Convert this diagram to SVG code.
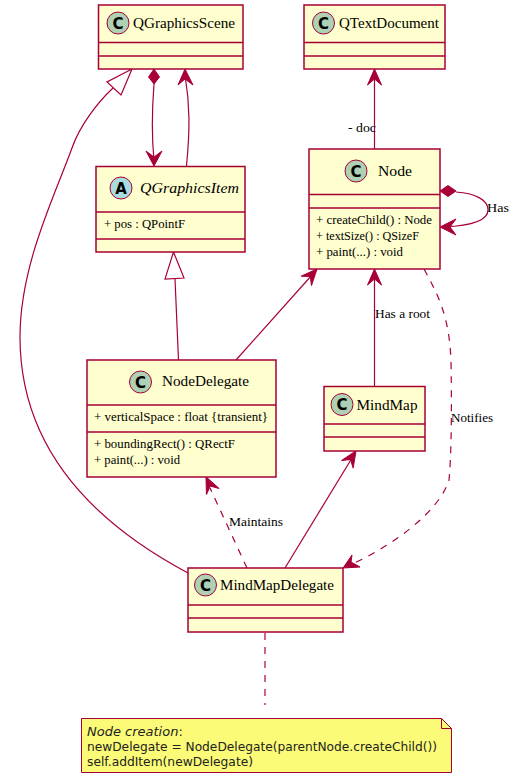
<svg xmlns="http://www.w3.org/2000/svg" width="515" height="784" viewBox="0 0 515 784">
<style>
.box{fill:#FEFECE;stroke:#A80036;stroke-width:1.5}
.sep{stroke:#A80036;stroke-width:1.5;fill:none}
.c{fill:#ADD1B2;stroke:#A80036;stroke-width:1}
.a{fill:#A9DCDF;stroke:#A80036;stroke-width:1}
.ct{font:bold 15px "DejaVu Sans",sans-serif;fill:#000;text-anchor:middle}
.t{font-family:"Liberation Serif","Times New Roman",serif;font-size:15.500px;fill:#000}
.m{font-family:"Liberation Serif","Times New Roman",serif;font-size:12.500px;fill:#000}
.n{font-family:"DejaVu Sans",sans-serif;font-size:13px;fill:#222}
.l{fill:none;stroke:#A80036;stroke-width:1.2}
.d{stroke-dasharray:7 7}
.h{fill:#A80036;stroke:#A80036;stroke-width:1}
.o{fill:none;stroke:#A80036;stroke-width:1.2}
</style>
<defs>
<path id="open" d="M0,0 L-7,16 L0,10 L7,16 Z"/>
</defs>
<g id="connectors">
<path class="l" d="M154,84 C152,110 152,140 154,160"/>
<path class="h" d="M154,69 L148.500,77 L154,84 L159.500,77 Z"/>
<path class="h" d="M154,166 L146,151 L154,157 L162,151 Z"/>
<path class="l" d="M186.500,166 C190,130 190,105 185,75"/>
<path class="h" d="M185,69 L178,85 L185,79 L193,85 Z"/>
<path class="l" d="M113,88 C98,102 80,125 72,148 C55,195 20,265 20,337 C20,430 70,510 188,573"/>
<path class="o" d="M132,69 L107,82 L121,95 Z"/>
<path class="l" d="M178.500,360 L175,279"/>
<path class="o" d="M173.500,252 L165,279 L184,278 Z"/>
<path class="l" d="M374.500,149 L374.500,75"/>
<use href="#open" class="h" x="374.500" y="69"/>
<path class="l" d="M236,360 L312,275"/>
<path class="h" transform="translate(317,269) rotate(42)" d="M0,0 L-7,16 L0,10 L7,16 Z"/>
<path class="l" d="M374.500,386 L374.500,275"/>
<use href="#open" class="h" x="374.500" y="269"/>
<path class="l" d="M456,192 C475,193 488,200 488,210 C488,222 465,226 444,227"/>
<path class="h" d="M440,191 L448,185.500 L456,191 L448,196.500 Z"/>
<path class="h" d="M440,227 L456,219 L450,227 L456,235 Z"/>
<path class="l d" d="M424,269 C438,295 449,315 451,360 C452,420 451,460 449,480 C440,510 395,545 350,565"/>
<path class="h" d="M343,568 L352,555 L351,562 L360,567 Z"/>
<path class="l" d="M285,568 L352,458"/>
<path class="h" transform="translate(356,451) rotate(33)" d="M0,0 L-7,16 L0,10 L7,16 Z"/>
<path class="l d" d="M247,568 L210,488"/>
<path class="h" transform="translate(206,477) rotate(-25)" d="M0,0 L-7,16 L0,10 L7,16 Z"/>
<path class="l d" d="M265,633 L265,705"/>
</g>
<text class="m" x="348" y="132" textLength="28" lengthAdjust="spacingAndGlyphs">- doc</text>
<text class="m" x="487" y="212" textLength="22" lengthAdjust="spacingAndGlyphs">Has</text>
<text class="m" x="375" y="318" textLength="55" lengthAdjust="spacingAndGlyphs">Has a root</text>
<text class="m" x="451" y="422" textLength="42" lengthAdjust="spacingAndGlyphs">Notifies</text>
<text class="m" x="229" y="526" textLength="54" lengthAdjust="spacingAndGlyphs">Maintains</text>
<g id="QGraphicsScene">
<rect class="box" x="98.500" y="5" width="144.500" height="64"/>
<path class="sep" d="M98.500,42.500 H243 M98.500,56 H243"/>
<circle class="c" cx="118" cy="23" r="11"/><text class="ct" x="118" y="28.500">C</text>
<text class="t" x="133" y="28" textLength="102" lengthAdjust="spacingAndGlyphs">QGraphicsScene</text>
</g>
<g id="QGraphicsItem">
<rect class="box" x="96" y="166.500" width="149" height="85.500"/>
<path class="sep" d="M96,212 H245 M96,239 H245"/>
<circle class="a" cx="121" cy="188" r="11"/><text class="ct" x="121" y="193.500">A</text>
<text class="t" x="140" y="193" font-style="italic" textLength="99" lengthAdjust="spacingAndGlyphs">QGraphicsItem</text>
<text class="m" x="104" y="228" textLength="81" lengthAdjust="spacingAndGlyphs">+ pos : QPointF</text>
</g>
<g id="QTextDocument">
<rect class="box" x="304" y="5" width="141" height="64"/>
<path class="sep" d="M304,42.500 H445 M304,56 H445"/>
<circle class="c" cx="323.500" cy="23" r="11"/><text class="ct" x="323.500" y="28.500">C</text>
<text class="t" x="339" y="28" textLength="100" lengthAdjust="spacingAndGlyphs">QTextDocument</text>
</g>
<g id="Node">
<rect class="box" x="309" y="149" width="131" height="120"/>
<path class="sep" d="M309,194.500 H440 M309,208 H440"/>
<circle class="c" cx="356" cy="171" r="11"/><text class="ct" x="356" y="176.500">C</text>
<text class="t" x="378" y="176" textLength="34" lengthAdjust="spacingAndGlyphs">Node</text>
<text class="m" x="316" y="224" textLength="116" lengthAdjust="spacingAndGlyphs">+ createChild() : Node</text>
<text class="m" x="316" y="240" textLength="103" lengthAdjust="spacingAndGlyphs">+ textSize() : QSizeF</text>
<text class="m" x="316" y="256" textLength="87" lengthAdjust="spacingAndGlyphs">+ paint(...) : void</text>
</g>
<g id="NodeDelegate">
<rect class="box" x="87" y="360" width="189" height="117"/>
<path class="sep" d="M87,405 H276 M87,432 H276"/>
<circle class="c" cx="140.500" cy="382" r="11"/><text class="ct" x="140.500" y="387.500">C</text>
<text class="t" x="162" y="386" textLength="87" lengthAdjust="spacingAndGlyphs">NodeDelegate</text>
<text class="m" x="94" y="421" textLength="174" lengthAdjust="spacingAndGlyphs">+ verticalSpace : float {transient}</text>
<text class="m" x="94" y="448" textLength="141" lengthAdjust="spacingAndGlyphs">+ boundingRect() : QRectF</text>
<text class="m" x="94" y="464" textLength="86" lengthAdjust="spacingAndGlyphs">+ paint(...) : void</text>
</g>
<g id="MindMap">
<rect class="box" x="324" y="386.500" width="101" height="64.500"/>
<path class="sep" d="M324,424 H425 M324,437 H425"/>
<circle class="c" cx="342" cy="404.500" r="11"/><text class="ct" x="342" y="410">C</text>
<text class="t" x="356.500" y="409.500" textLength="61" lengthAdjust="spacingAndGlyphs">MindMap</text>
</g>
<g id="MindMapDelegate">
<rect class="box" x="188" y="568" width="155" height="64"/>
<path class="sep" d="M188,605 H343 M188,618 H343"/>
<circle class="c" cx="205.500" cy="585" r="11"/><text class="ct" x="205.500" y="590.500">C</text>
<text class="t" x="220" y="590" textLength="114" lengthAdjust="spacingAndGlyphs">MindMapDelegate</text>
</g>
<g id="note">
<path d="M81.500,718.500 H441.500 L451.500,728.500 V772.500 H81.500 Z" fill="#FBFB77" stroke="#A80036" stroke-width="1"/>
<path d="M441.500,718.500 V728.500 H451.500" fill="none" stroke="#A80036" stroke-width="1"/>
<text class="n" x="87" y="736" font-style="italic">Node creation<tspan font-style="normal">:</tspan></text>
<text class="n" x="87" y="751" textLength="350" lengthAdjust="spacingAndGlyphs">newDelegate = NodeDelegate(parentNode.createChild())</text>
<text class="n" x="87" y="766" textLength="166" lengthAdjust="spacingAndGlyphs">self.addItem(newDelegate)</text>
</g>
</svg>
